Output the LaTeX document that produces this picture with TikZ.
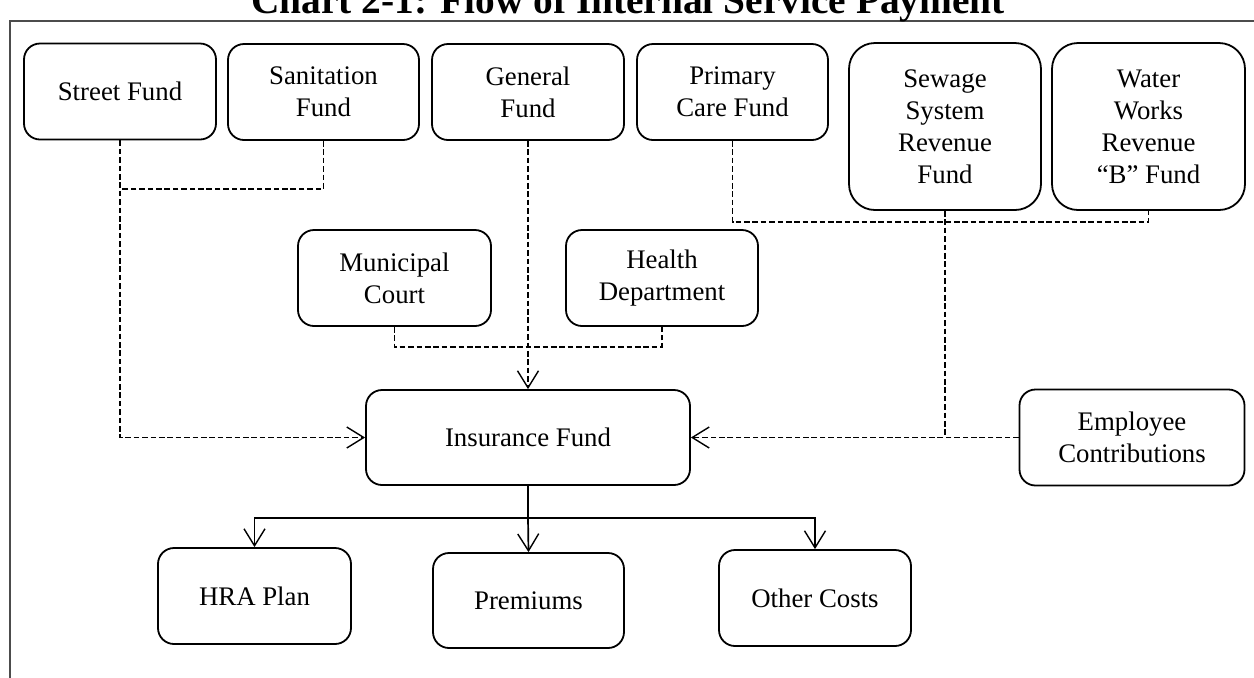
\documentclass[tikz,border=0pt]{standalone}
\usepackage{fontspec}
\setmainfont{Liberation Serif}
\usetikzlibrary{arrows.meta}
\begin{document}
\begin{tikzpicture}[x=0.5pt,y=-0.5pt,
  box/.style={draw, line width=0.9pt, rounded corners=8pt, align=center,
    font=\fontsize{13.4}{16}\selectfont, inner sep=0pt},
  tallbox/.style={box, rounded corners=13pt},
  dashline/.style={line width=0.75pt, dash pattern=on 2.8pt off 1.4pt},
  solidline/.style={line width=0.85pt},
  tip/.style={-{Straight Barb[length=8.5pt,width=10.5pt,line width=0.7pt]}}
]
\useasboundingbox (0,0) rectangle (1254,677);
\clip (0,0) rectangle (1254,677);
% frame
\draw[line width=0.8pt, black!70] (10,700) -- (10,21) -- (1270,21);
% title (partly cut off at the top)
\node[anchor=base, font=\fontsize{19.7}{22}\selectfont\bfseries, inner sep=0pt] (title) at (628,13) {Chart 2-1: Flow of Internal Service Payment};
% top row
\node[box, minimum width=96pt, minimum height=48pt] (street) at (120,91.5) {Street Fund};
\node[box, minimum width=95.5pt, minimum height=48pt] (sanit) at (323.5,92) {Sanitation\\Fund};
\node[box, minimum width=96pt, minimum height=48pt] (general) at (528,92) {General\\Fund};
\node[box, minimum width=95.5pt, minimum height=48pt] (primary) at (732.5,92) {Primary\\Care Fund};
\node[tallbox, minimum width=96pt, minimum height=83.5pt] (sewage) at (945,126.5) {Sewage\\System\\Revenue\\Fund};
\node[tallbox, minimum width=96.5pt, minimum height=83.5pt] (water) at (1148.5,126.5) {Water\\Works\\Revenue\\``B'' Fund};
% middle row
\node[box, minimum width=96.5pt, minimum height=48pt] (municipal) at (394.5,278) {Municipal\\Court};
\node[box, minimum width=96pt, minimum height=48pt] (health) at (662,278) {Health\\Department};
\node[box, minimum width=162pt, minimum height=47.5pt] (insurance) at (528,437.5) {Insurance Fund};
\node[box, minimum width=112.5pt, minimum height=48pt] (employee) at (1132,437.5) {Employee\\Contributions};
% bottom row
\node[box, minimum width=96.5pt, minimum height=48pt] (hra) at (254.5,596) {HRA Plan};
\node[box, minimum width=95.5pt, minimum height=47.5pt] (prem) at (528.5,600.5) {Premiums};
\node[box, minimum width=96pt, minimum height=48pt] (other) at (815,598) {Other Costs};
% dashed connectors
\coordinate (jstreet) at (120,189);
\draw[dashline] (sanit.south) |- (jstreet);
\draw[dashline, tip] (street.south) |- (insurance.west);
\draw[dashline, tip] (general.south) -- (insurance.north);
\draw[dashline] (municipal.south) -- ++(0,20) -| (health.south);
\draw[dashline] (primary.south) -- ++(0,81) -| (water.south);
\draw[dashline] (sewage.south) -- (sewage.south |- insurance.east);
\draw[dashline, tip] (employee.west) -- (insurance.east);
% solid connectors
\draw[solidline] (insurance.south) -- ++(0,32) coordinate (bus);
\draw[solidline, tip] (bus) -| (hra.north);
\draw[solidline, tip] (bus) -| (other.north);
\draw[solidline, tip] (bus) -- (prem.north);
\end{tikzpicture}
\end{document}
